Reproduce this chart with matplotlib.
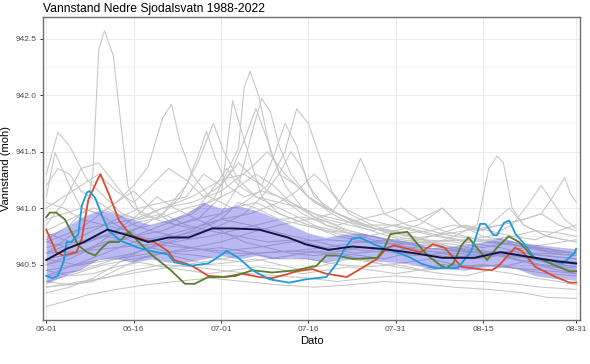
import numpy as np
import matplotlib
matplotlib.use("Agg")
import matplotlib.pyplot as plt
from matplotlib.ticker import MultipleLocator

plt.rcParams["font.family"] = ["Liberation Sans", "DejaVu Sans"]

# x is days after 1 June
tick_days = [0, 15, 30, 45, 60, 75, 91]
tick_labels = ["06-01", "06-16", "07-01", "07-16", "07-31", "08-15", "08-31"]

# grey: one line per earlier year, (day, level) vertices
g01 = [(0, 940.72), (4, 940.85), (7, 941.0), (8, 941.3), (9, 942.4), (10, 942.57), (11.5, 942.35),
       (14, 941.2), (16, 940.95), (20, 940.88), (25, 940.82), (30, 940.9), (35, 940.85), (40, 940.78),
       (45, 940.72), (50, 940.66), (55, 940.62), (60, 940.66), (65, 940.6), (70, 940.56), (75, 940.6),
       (80, 940.56), (85, 940.5), (91, 940.47)]
g02 = [(0, 941.3), (2, 941.67), (4, 941.55), (7, 941.25), (10, 941.1), (13, 940.95), (16, 940.9),
       (20, 940.95), (24, 940.85), (28, 940.8), (33, 940.75), (38, 940.7), (43, 940.72), (48, 940.65),
       (53, 940.6), (58, 940.62), (63, 940.58), (68, 940.6), (73, 940.55), (78, 940.58), (84, 940.5),
       (91, 940.45)]
g03 = [(0, 941.1), (1.5, 941.49), (4, 941.2), (6, 941.0), (9, 940.95), (12, 941.05), (15, 941.15),
       (18, 941.0), (22, 940.85), (26, 940.9), (30, 941.1), (32, 941.95), (34, 941.6), (37, 941.1),
       (40, 940.95), (45, 940.85), (50, 940.8), (55, 940.75), (60, 940.8), (65, 940.72), (70, 940.7),
       (75, 940.65), (80, 940.7), (86, 940.62), (91, 940.6)]
g04 = [(0, 940.6), (4, 940.75), (8, 940.9), (12, 941.05), (15, 941.2), (17.5, 941.37), (20, 941.8),
       (21.5, 941.92), (23, 941.58), (25, 941.3), (28, 941.1), (32, 941.0), (36, 941.05), (40, 940.95),
       (45, 940.85), (50, 940.75), (55, 940.7), (60, 940.72), (65, 940.65), (70, 940.62), (75, 940.6),
       (80, 940.62), (85, 940.58), (91, 940.55)]
g05 = [(0, 940.85), (3, 941.05), (6, 941.35), (9, 941.4), (12, 941.2), (15, 941.0), (19, 940.9),
       (23, 941.1), (26, 941.4), (28.7, 941.75), (30.5, 941.5), (33, 941.25), (36, 941.1), (40, 941.0),
       (44, 940.9), (48, 940.8), (52, 940.75), (56, 940.7), (60, 940.68), (65, 940.7), (70, 940.65),
       (75, 940.6), (80, 940.58), (86, 940.55), (91, 940.52)]
g06 = [(0, 940.5), (5, 940.6), (10, 940.7), (15, 940.75), (20, 940.85), (25, 940.95), (29, 941.1),
       (33, 941.53), (34, 942.07), (35, 942.21), (36.5, 941.99), (38.5, 941.5), (41, 941.2), (44, 941.0),
       (48, 940.85), (52, 940.78), (56, 940.72), (60, 940.68), (65, 940.62), (70, 940.6), (75, 940.58),
       (80, 940.6), (85, 940.55), (91, 940.5)]
g07 = [(0, 940.4), (5, 940.5), (10, 940.55), (15, 940.6), (20, 940.7), (25, 940.8), (30, 940.95),
       (33, 941.2), (35.5, 941.7), (37, 941.97), (38.5, 941.85), (40, 941.55), (42, 941.3), (45, 941.1),
       (49, 940.95), (53, 940.85), (57, 940.78), (61, 940.72), (66, 940.68), (71, 940.62), (76, 940.6),
       (81, 940.57), (86, 940.52), (91, 940.48)]
g08 = [(0, 940.65), (4, 940.7), (8, 940.8), (12, 940.9), (16, 941.0), (20, 941.05), (24, 941.1),
       (27, 941.3), (30, 941.2), (32, 941.35), (34, 941.6), (36, 941.88), (38, 941.6), (40, 941.3),
       (43, 941.2), (46, 941.05), (50, 940.95), (55, 940.85), (60, 940.75), (65, 940.7), (70, 940.68),
       (75, 940.62), (80, 940.6), (85, 940.6), (91, 940.58)]
g09 = [(0, 940.55), (5, 940.6), (10, 940.68), (15, 940.75), (20, 940.8), (25, 940.9), (30, 940.95),
       (34, 941.05), (38, 941.2), (41, 941.5), (43, 941.88), (45, 941.75), (47, 941.45), (49, 941.15),
       (52, 940.95), (56, 940.85), (60, 940.78), (65, 940.72), (70, 940.65), (75, 940.62), (80, 940.58),
       (85, 940.55), (91, 940.52)]
g10 = [(0, 940.8), (4, 940.9), (8, 941.0), (12, 940.95), (16, 940.9), (20, 941.0), (25, 941.1),
       (30, 941.25), (34, 941.3), (37, 941.2), (39, 941.45), (41, 941.75), (43, 941.55), (45, 941.2),
       (48, 941.0), (52, 940.9), (56, 940.82), (60, 940.8), (64, 940.85), (68, 941.0), (71, 940.85),
       (75, 940.75), (80, 940.7), (85, 940.65), (91, 940.6)]
g11 = [(0, 940.35), (5, 940.42), (10, 940.5), (15, 940.55), (20, 940.6), (25, 940.65), (30, 940.7),
       (35, 940.78), (40, 940.85), (45, 940.9), (49, 940.95), (52, 941.2), (54, 941.44), (56, 941.2),
       (58, 940.95), (62, 940.85), (66, 940.8), (70, 940.75), (75, 940.72), (80, 940.68), (85, 940.62),
       (91, 940.6)]
g12 = [(0, 940.45), (6, 940.5), (12, 940.55), (18, 940.6), (24, 940.62), (30, 940.65), (36, 940.6),
       (42, 940.62), (48, 940.6), (54, 940.65), (60, 940.62), (66, 940.68), (70, 940.75), (74, 940.85),
       (76, 941.35), (77.4, 941.46), (78.5, 941.4), (80, 941.0), (82, 940.85), (86, 940.75), (91, 940.7)]
g13 = [(0, 940.3), (6, 940.35), (12, 940.4), (18, 940.45), (24, 940.5), (30, 940.55), (36, 940.6),
       (42, 940.62), (48, 940.65), (54, 940.7), (60, 940.72), (66, 940.75), (72, 940.8), (78, 940.85),
       (82, 940.9), (85, 940.95), (87, 941.1), (89, 941.27), (90, 941.13), (91, 941.05)]
g14 = [(0, 940.7), (5, 940.8), (10, 940.85), (15, 940.9), (20, 941.0), (25, 941.05), (30, 941.15),
       (35, 941.35), (38, 941.5), (41, 941.3), (45, 941.1), (50, 940.95), (55, 940.85), (60, 940.85),
       (64, 940.9), (68, 941.0), (71, 940.85), (75, 940.8), (79.5, 941.0), (82, 940.85), (86, 940.75),
       (91, 940.7)]
g15 = [(0, 940.13), (3, 940.17), (7, 940.23), (12, 940.28), (17, 940.32), (22, 940.35), (28, 940.38),
       (34, 940.35), (40, 940.32), (46, 940.3), (52, 940.32), (58, 940.35), (64, 940.33), (70, 940.3),
       (76, 940.28), (82, 940.25), (86, 940.21), (91, 940.2)]
g16 = [(0, 940.3), (5, 940.33), (10, 940.38), (15, 940.45), (20, 940.5), (25, 940.48), (30, 940.45),
       (35, 940.42), (40, 940.4), (45, 940.38), (50, 940.35), (55, 940.38), (60, 940.4), (65, 940.38),
       (70, 940.36), (75, 940.35), (80, 940.33), (85, 940.3), (91, 940.28)]
g17 = [(0, 940.35), (4, 940.32), (8, 940.35), (12, 940.45), (16, 940.55), (20, 940.6), (24, 940.55),
       (28, 940.5), (32, 940.52), (36, 940.55), (40, 940.5), (44, 940.45), (48, 940.5), (52, 940.55),
       (56, 940.52), (60, 940.48), (64, 940.45), (68, 940.42), (72, 940.4), (76, 940.45), (80, 940.42),
       (84, 940.38), (88, 940.35), (91, 940.32)]
g18 = [(0, 940.5), (4, 940.55), (8, 940.65), (12, 940.8), (16, 940.95), (19, 941.1), (22, 941.0),
       (26, 940.9), (30, 940.8), (34, 940.7), (38, 940.65), (42, 940.6), (46, 940.58), (50, 940.6),
       (54, 940.55), (58, 940.5), (62, 940.52), (66, 940.55), (70, 940.5), (74, 940.48), (78, 940.5),
       (82, 940.45), (86, 940.42), (91, 940.4)]
g19 = [(0, 941.05), (3, 941.0), (6, 940.9), (10, 940.85), (14, 940.8), (18, 940.85), (22, 940.9),
       (26, 941.0), (29, 941.2), (31, 941.35), (33, 941.2), (36, 941.1), (40, 941.05), (44, 941.0),
       (48, 940.9), (52, 940.85), (56, 940.8), (60, 940.85), (64, 940.8), (68, 940.75), (72, 940.7),
       (76, 940.72), (80, 940.75), (84, 940.8), (88, 940.78), (91, 940.75)]
g20 = [(0, 940.9), (3, 940.95), (6, 941.0), (9, 940.95), (12, 940.85), (16, 940.75), (20, 940.7),
       (25, 940.65), (30, 940.6), (35, 940.6), (40, 940.55), (45, 940.55), (50, 940.5), (55, 940.48),
       (60, 940.5), (65, 940.45), (70, 940.48), (75, 940.5), (80, 940.47), (85, 940.45), (91, 940.42)]
g21 = [(0, 940.4), (6, 940.45), (12, 940.55), (18, 940.65), (24, 940.75), (30, 940.85), (34, 940.95),
       (37, 941.1), (40, 941.3), (42, 941.5), (44, 941.35), (46, 941.1), (50, 940.95), (54, 940.85),
       (58, 940.8), (62, 940.75), (66, 940.7), (70, 940.72), (74, 940.68), (78, 940.65), (82, 940.6),
       (86, 940.58), (91, 940.55)]
g22 = [(0, 940.6), (5, 940.7), (10, 940.75), (15, 940.8), (20, 940.95), (24, 941.2), (26, 941.45),
       (27.5, 941.68), (29, 941.45), (31, 941.2), (34, 941.1), (37, 941.15), (40, 941.1), (44, 940.95),
       (48, 940.85), (52, 940.8), (56, 940.75), (60, 940.7), (65, 940.65), (70, 940.62), (75, 940.6),
       (80, 940.57), (85, 940.55), (91, 940.52)]
g23 = [(0, 940.25), (4, 940.3), (8, 940.38), (12, 940.5), (16, 940.62), (20, 940.68), (24, 940.72),
       (28, 940.75), (32, 940.8), (36, 940.85), (40, 940.9), (44, 940.92), (48, 940.88), (52, 940.8),
       (56, 940.75), (60, 940.7), (64, 940.68), (68, 940.65), (72, 940.62), (76, 940.6), (80, 940.55),
       (84, 940.5), (88, 940.45), (91, 940.42)]
g24 = [(0, 940.78), (3, 940.72), (6, 940.68), (10, 940.75), (14, 940.72), (18, 940.65), (22, 940.6),
       (26, 940.58), (30, 940.55), (34, 940.52), (38, 940.55), (42, 940.58), (46, 940.62), (50, 940.6),
       (54, 940.58), (58, 940.55), (62, 940.6), (66, 940.62), (70, 940.58), (74, 940.55), (78, 940.6),
       (82, 940.65), (86, 940.68), (91, 940.72)]
g25 = [(0, 941.0), (3, 941.1), (6, 941.2), (9, 941.3), (12, 941.15), (15, 941.05), (18, 941.2),
       (21, 941.35), (24, 941.25), (27, 941.1), (30, 941.2), (33, 941.4), (35, 941.3), (38, 941.15),
       (42, 941.05), (46, 940.95), (50, 940.9), (54, 940.85), (58, 940.8), (62, 940.78), (66, 940.8),
       (70, 940.85), (74, 940.8), (78, 940.85), (82, 940.9), (85, 940.95), (88, 940.85), (91, 940.8)]
g26 = [(0, 940.45), (4, 940.4), (8, 940.42), (12, 940.48), (16, 940.52), (20, 940.48), (24, 940.45),
       (28, 940.42), (32, 940.45), (36, 940.48), (40, 940.46), (44, 940.42), (48, 940.45), (52, 940.48),
       (56, 940.45), (60, 940.42), (64, 940.45), (68, 940.5), (72, 940.48), (76, 940.45), (80, 940.5),
       (84, 940.55), (88, 940.5), (91, 940.48)]
g27 = [(0, 940.55), (5, 940.5), (10, 940.6), (15, 940.7), (20, 940.75), (25, 940.82), (30, 940.9),
       (35, 940.95), (40, 941.05), (43, 941.15), (46, 941.3), (48, 941.2), (51, 941.0), (55, 940.9),
       (59, 940.85), (63, 940.8), (67, 940.75), (71, 940.72), (75, 940.7), (79, 940.68), (83, 940.65),
       (87, 940.6), (91, 940.58)]
g28 = [(0, 941.2), (2, 941.35), (4, 941.3), (6, 941.15), (9, 941.05), (12, 940.95), (15, 940.85),
       (18, 940.8), (22, 940.75), (26, 940.8), (30, 940.9), (33, 941.05), (36, 941.0), (40, 940.9),
       (44, 940.85), (48, 940.8), (52, 940.78), (56, 940.75), (60, 940.7), (64, 940.72), (68, 940.78),
       (72, 940.85), (76, 940.8), (80, 940.75), (84, 940.72), (88, 940.8), (91, 940.85)]
g29 = [(0, 940.6), (6, 940.62), (12, 940.65), (18, 940.68), (24, 940.65), (30, 940.62), (36, 940.65),
       (42, 940.7), (48, 940.72), (54, 940.7), (60, 940.68), (66, 940.7), (72, 940.72), (76, 940.75),
       (80, 940.85), (83, 941.05), (85, 941.2), (87, 941.05), (89, 940.9), (91, 940.82)]
g30 = [(0, 940.7), (4, 940.65), (8, 940.72), (12, 940.8), (16, 940.88), (20, 940.92), (24, 941.0),
       (28, 941.05), (32, 941.15), (36, 941.3), (39, 941.2), (42, 941.05), (46, 940.92), (50, 940.85),
       (54, 940.9), (58, 940.95), (61, 941.0), (64, 940.9), (68, 940.8), (72, 940.75), (76, 940.7),
       (80, 940.68), (84, 940.65), (88, 940.62), (91, 940.6)]
grey_years = [g01, g02, g03, g04, g05, g06, g07, g08, g09, g10, g11, g12, g13, g14, g15,
              g16, g17, g18, g19, g20, g21, g22, g23, g24, g25, g26, g27, g28, g29, g30]

# mean +/- spread band
band_days = [0, 3, 6, 9, 12, 15, 18, 21, 24, 27, 30, 33, 36, 39, 42, 45, 48, 51, 54, 57, 60,
             63, 66, 69, 72, 75, 78, 81, 84, 87, 91]
band_hi = [940.76, 940.82, 940.92, 940.98, 940.95, 940.90, 940.85, 940.90, 940.95, 941.05, 941.00,
           941.02, 940.98, 940.92, 940.85, 940.78, 940.74, 940.77, 940.78, 940.75, 940.72, 940.70,
           940.65, 940.66, 940.68, 940.70, 940.74, 940.70, 940.68, 940.66, 940.64]
band_lo = [940.33, 940.40, 940.46, 940.55, 940.55, 940.52, 940.55, 940.52, 940.52, 940.55, 940.58,
           940.55, 940.58, 940.55, 940.56, 940.55, 940.52, 940.55, 940.55, 940.53, 940.52, 940.50,
           940.46, 940.46, 940.45, 940.48, 940.48, 940.46, 940.40, 940.38, 940.36]

mean_days = [0, 3.5, 6.5, 10.5, 14, 17.5, 21, 24.5, 28.5, 32, 36.5, 41.5, 44.5, 48.5, 52.5, 57.5,
             62, 64.5, 68, 73.5, 78, 81.5, 87.5, 91]
mean_vals = [940.54, 940.64, 940.70, 940.81, 940.76, 940.70, 940.74, 940.74, 940.82, 940.82, 940.81,
             940.74, 940.68, 940.63, 940.66, 940.64, 940.61, 940.59, 940.56, 940.56, 940.61, 940.58,
             940.53, 940.51]

red_days = [0, 1.7, 2.9, 5.2, 6.1, 7.2, 8.7, 9.3, 10.7, 12.5, 14.5, 17.4, 18.5, 20.9, 22, 25, 27.8,
            30.7, 33.6, 36.5, 38.8, 41.7, 42.9, 45.7, 48, 51.6, 53.9, 56.8, 58.6, 59.7, 62, 64.3,
            66.4, 68.4, 71.3, 74.2, 76.5, 77.7, 80.5, 81.7, 84, 87.5, 89.9, 91]
red_vals = [940.81, 940.61, 940.58, 940.61, 940.73, 941.07, 941.24, 941.30, 941.13, 940.89, 940.76,
            940.71, 940.70, 940.62, 940.54, 940.49, 940.40, 940.39, 940.42, 940.39, 940.38, 940.42,
            940.44, 940.46, 940.42, 940.39, 940.46, 940.55, 940.65, 940.67, 940.64, 940.61, 940.68,
            940.65, 940.48, 940.46, 940.45, 940.49, 940.65, 940.62, 940.48, 940.39, 940.34, 940.34]

blue_days = [0, 1, 2, 3, 3.5, 4.3, 5.5, 6.1, 7, 7.4, 8.4, 9.6, 10.7, 12.8, 15.7, 18, 20.9, 22,
             24.9, 27.8, 29.9, 31, 33, 35.4, 38.3, 41.7, 44.6, 48.1, 49.9, 51, 52.5, 53.9, 56.2,
             59.1, 62.6, 64.3, 66.7, 70.7, 73, 74.5, 75.4, 76.8, 77.4, 78.6, 79.5, 80.6, 82.3, 84,
             86.4, 88.7, 90.7, 91]
blue_vals = [940.40, 940.38, 940.40, 940.53, 940.70, 940.70, 940.77, 941.02, 941.14, 941.15, 941.09,
             940.93, 940.80, 940.71, 940.65, 940.62, 940.59, 940.52, 940.49, 940.51, 940.58, 940.62,
             940.56, 940.45, 940.37, 940.34, 940.37, 940.39, 940.51, 940.62, 940.73, 940.74, 940.68,
             940.63, 940.56, 940.51, 940.47, 940.47, 940.62, 940.86, 940.86, 940.76, 940.76, 940.87,
             940.89, 940.77, 940.67, 940.55, 940.54, 940.51, 940.60, 940.64]

green_days = [0, 0.6, 1.7, 3.2, 4.3, 5.5, 7, 8.4, 9.6, 10.7, 12.5, 14.2, 15.7, 18, 21.4, 23.8, 25.5,
              27.8, 30.1, 32.5, 35.4, 38.8, 42.9, 46.4, 48.1, 49.9, 52.7, 56.8, 58, 59.1, 62, 63.8,
              65.5, 67.8, 68.7, 69.9, 71.3, 72.5, 73.9, 75.7, 77.4, 79.4, 81.2, 83.5, 85.2, 87.5,
              89.9, 91]
green_vals = [940.92, 940.96, 940.96, 940.90, 940.79, 940.67, 940.61, 940.58, 940.65, 940.70, 940.70,
              940.79, 940.71, 940.59, 940.45, 940.33, 940.33, 940.39, 940.39, 940.40, 940.45, 940.43,
              940.45, 940.49, 940.58, 940.58, 940.55, 940.56, 940.64, 940.77, 940.79, 940.68, 940.58,
              940.49, 940.47, 940.51, 940.67, 940.74, 940.65, 940.54, 940.65, 940.75, 940.70, 940.57,
              940.54, 940.49, 940.44, 940.44]


fig = plt.figure(figsize=(5.9, 3.64), dpi=100)
ax = fig.add_axes([0.073, 0.121, 0.910, 0.832])

for line in grey_years:
    d, v = zip(*line)
    ax.plot(d, v, color="#c6c6c6", lw=0.75, zorder=2)

ax.fill_between(band_days, band_lo, band_hi, color="#4040e0", alpha=0.36, lw=0, zorder=3)

ax.plot(red_days, red_vals, color="#de4a30", lw=1.3, zorder=4)
ax.plot(green_days, green_vals, color="#5b7d2c", lw=1.3, zorder=4)
ax.plot(blue_days, blue_vals, color="#1f9ad8", lw=1.3, zorder=4)
ax.plot(mean_days, mean_vals, color="#15153f", lw=1.4, zorder=5)

ax.set_xlim(-0.55, 91.65)
ax.set_ylim(940.01, 942.69)
ax.set_xticks(tick_days)
ax.set_xticklabels(tick_labels)
ax.yaxis.set_major_locator(MultipleLocator(0.5))
ax.yaxis.set_minor_locator(MultipleLocator(0.25))
ax.yaxis.set_major_formatter(lambda v, p: f"{v:.1f}")

ax.grid(True, which="major", color="#ebebeb", lw=0.7, zorder=0)
ax.grid(True, which="minor", axis="y", color="#f2f2f2", lw=0.6, zorder=0)
ax.set_axisbelow(True)
ax.tick_params(which="major", length=2.5, width=0.7, color="#333333",
               labelsize=6, labelcolor="#4d4d4d", pad=2)
ax.tick_params(which="minor", length=0)
for s in ax.spines.values():
    s.set_color("#6e6e6e")
    s.set_linewidth(1.0)

ax.set_xlabel("Dato", fontsize=8, labelpad=2)
ax.set_ylabel("Vannstand (moh)", fontsize=8)
ax.yaxis.set_label_coords(-0.06, 0.5)
ax.set_title("Vannstand Nedre Sjodalsvatn 1988-2022", fontsize=8.7, loc="left", pad=4)

fig.savefig("out.png", dpi=100)
